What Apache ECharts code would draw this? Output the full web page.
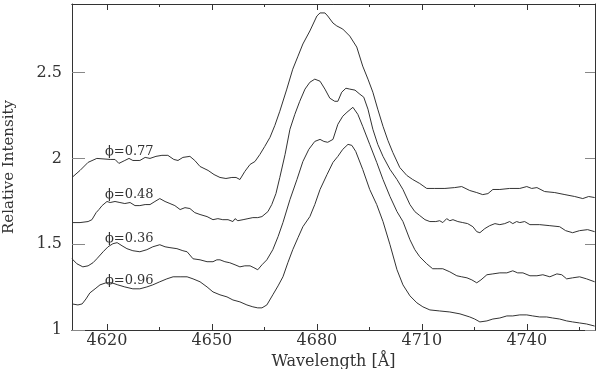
<!DOCTYPE html>
<html>
<head>
<meta charset="utf-8">
<script src="https://cdn.jsdelivr.net/npm/echarts@6/dist/echarts.min.js"></script>
<style>
  html, body { margin: 0; padding: 0; background: #fff; }
  #main { width: 600px; height: 369px; }
</style>
</head>
<body>
<div id="main"></div>
<script>
// spectra, [wavelength (A), relative intensity]
var phi077 = [
  [4610,1.889],[4612.3,1.930],[4614.6,1.977],[4617.1,2.000],[4620.9,1.994],[4622.3,1.994],
  [4623.4,1.971],[4625.1,1.988],[4626.3,2.000],[4627.4,1.988],[4629.4,1.988],[4630.9,2.006],
  [4632.3,2.000],[4634,2.012],[4635.7,2.018],[4637.4,2.018],[4639.1,1.994],[4640.3,1.988],
  [4641.7,2.006],[4643.7,2.012],[4645.1,1.988],[4646.6,1.953],[4648.9,1.930],[4650.6,1.906],
  [4652.3,1.889],[4654,1.883],[4655.7,1.889],[4656.9,1.889],[4658,1.877],[4659.4,1.924],
  [4660.9,1.965],[4662.3,1.982],[4663.7,2.023],[4665.1,2.070],[4666.6,2.123],[4668,2.193],
  [4669.4,2.275],[4671.4,2.404],[4673.1,2.520],[4674.6,2.596],[4676,2.667],[4678,2.743],
  [4680,2.830],[4680.9,2.848],[4682.3,2.848],[4683.1,2.830],[4684.6,2.789],[4685.7,2.772],
  [4687.4,2.754],[4689.4,2.713],[4691.4,2.649],[4693.1,2.538],[4694.6,2.462],[4696,2.386],
  [4697.4,2.287],[4698.9,2.187],[4700.3,2.105],[4701.7,2.035],[4703.7,1.947],[4705.7,1.901],
  [4707.4,1.877],[4709.4,1.854],[4711.4,1.825],[4713.7,1.825],[4716.6,1.825],[4719.4,1.830],
  [4721.4,1.836],[4723.7,1.813],[4725.7,1.801],[4727.4,1.789],[4728.9,1.795],[4730.3,1.819],
  [4732.3,1.819],[4735.1,1.825],[4738,1.825],[4740,1.836],[4741.4,1.825],[4742.9,1.830],
  [4745.1,1.807],[4748,1.801],[4750.9,1.789],[4753.7,1.778],[4756,1.766],[4757.7,1.778],
  [4759.4,1.772]
];
var phi048 = [
  [4610,1.626],[4612.3,1.626],[4614.6,1.632],[4615.7,1.643],[4616.9,1.684],[4617.7,1.702],
  [4618.6,1.725],[4619.1,1.719],[4620,1.749],[4620.9,1.743],[4622.3,1.749],[4623.7,1.743],
  [4625.1,1.737],[4626.6,1.743],[4628,1.725],[4629.4,1.725],[4630.9,1.731],[4632.3,1.731],
  [4633.7,1.749],[4635.1,1.766],[4636.6,1.749],[4638,1.737],[4639.4,1.725],[4640.9,1.702],
  [4642.3,1.713],[4643.7,1.708],[4645.1,1.684],[4646.6,1.673],[4648.6,1.661],[4650.3,1.643],
  [4651.7,1.649],[4653.1,1.643],[4654.6,1.643],[4656,1.632],[4656.6,1.649],[4657.4,1.637],
  [4658.9,1.643],[4660.3,1.649],[4661.7,1.655],[4663.1,1.655],[4664.3,1.661],[4666,1.690],
  [4667.1,1.731],[4668.3,1.795],[4669.4,1.889],[4670.9,2.023],[4672.3,2.170],[4673.7,2.257],
  [4675.1,2.333],[4676.6,2.404],[4678,2.444],[4679.4,2.462],[4680.9,2.450],[4682.3,2.404],
  [4683.7,2.351],[4685.1,2.333],[4686,2.333],[4687.1,2.386],[4688.3,2.409],[4689.4,2.404],
  [4690.9,2.398],[4692.3,2.374],[4693.4,2.357],[4694.6,2.287],[4696,2.170],[4697.4,2.082],
  [4698.9,2.012],[4700.9,1.936],[4702.9,1.877],[4704.6,1.819],[4706.6,1.731],[4708,1.690],
  [4709.4,1.667],[4710.9,1.643],[4712.3,1.632],[4714,1.632],[4715.1,1.637],[4716,1.626],
  [4717.1,1.649],[4718,1.637],[4718.9,1.643],[4720.3,1.632],[4721.7,1.626],[4723.1,1.620],
  [4724.6,1.602],[4725.7,1.573],[4726.6,1.567],[4728,1.591],[4729.4,1.608],[4730.9,1.620],
  [4732.3,1.614],[4733.7,1.620],[4735.1,1.632],[4736,1.620],[4737.1,1.632],[4738,1.626],
  [4739.4,1.632],[4740.9,1.614],[4743.7,1.614],[4746.6,1.608],[4749.4,1.602],[4751.1,1.579],
  [4753.1,1.567],[4755.1,1.579],[4757.4,1.585],[4759.4,1.573]
];
var phi036 = [
  [4610,1.415],[4611.4,1.386],[4613.1,1.368],[4614.6,1.374],[4616,1.392],[4617.1,1.415],
  [4618.9,1.456],[4620.3,1.485],[4621.7,1.503],[4622.9,1.509],[4624.3,1.491],[4625.7,1.474],
  [4627.4,1.462],[4629.4,1.456],[4631.4,1.468],[4633.1,1.485],[4635.1,1.497],[4636.6,1.485],
  [4638,1.480],[4640,1.474],[4641.7,1.462],[4642.9,1.456],[4644.6,1.415],[4646.6,1.409],
  [4648.6,1.398],[4650.3,1.398],[4651.4,1.409],[4652.3,1.409],[4653.7,1.398],[4655.1,1.392],
  [4656.6,1.380],[4658,1.368],[4659.4,1.374],[4660.9,1.374],[4662,1.363],[4663.1,1.351],
  [4664.3,1.380],[4665.7,1.409],[4667.4,1.468],[4668.9,1.544],[4670.3,1.626],[4672.3,1.760],
  [4674.3,1.877],[4676,1.982],[4677.7,2.053],[4679.4,2.099],[4680.9,2.111],[4682,2.099],
  [4683.1,2.094],[4684.6,2.111],[4686,2.199],[4687.4,2.246],[4688.6,2.269],[4690.3,2.298],
  [4691.7,2.257],[4693.1,2.187],[4695.1,2.082],[4697.1,1.977],[4698.9,1.877],[4700.9,1.778],
  [4702.9,1.690],[4704.6,1.632],[4706.6,1.526],[4708,1.468],[4709.4,1.427],[4711.4,1.386],
  [4713.1,1.357],[4714.6,1.357],[4716,1.357],[4718,1.339],[4720,1.316],[4721.4,1.310],
  [4722.9,1.304],[4724.3,1.292],[4725.7,1.275],[4726.9,1.292],[4728.6,1.322],[4730.3,1.327],
  [4732.3,1.333],[4734.3,1.333],[4736,1.345],[4737.4,1.333],[4738.9,1.333],[4740.9,1.316],
  [4742.9,1.316],[4744.6,1.322],[4746.6,1.310],[4748.6,1.327],[4750,1.322],[4751.4,1.298],
  [4753.1,1.304],[4755.1,1.310],[4757.1,1.298],[4759.4,1.281]
];
var phi096 = [
  [4610,1.152],[4611.7,1.146],[4612.9,1.152],[4614,1.181],[4615.1,1.216],[4616.6,1.240],
  [4618,1.263],[4619.7,1.275],[4621.4,1.275],[4623.1,1.263],[4625.1,1.251],[4627.4,1.240],
  [4629.4,1.240],[4631.4,1.251],[4633.1,1.263],[4635.1,1.281],[4637.1,1.298],[4638.9,1.310],
  [4640.9,1.310],[4642.9,1.310],[4644.6,1.298],[4646.6,1.281],[4648.6,1.251],[4650.3,1.222],
  [4652.3,1.205],[4654.3,1.193],[4656,1.175],[4658,1.164],[4660,1.146],[4661.7,1.135],
  [4663.1,1.129],[4664.3,1.129],[4665.7,1.146],[4667.4,1.205],[4668.9,1.257],[4670.3,1.310],
  [4671.7,1.392],[4673.1,1.468],[4674.6,1.538],[4676,1.602],[4678,1.661],[4679.4,1.731],
  [4680.9,1.819],[4682.9,1.906],[4684.6,1.977],[4686,2.012],[4687.4,2.053],[4688.9,2.082],
  [4690,2.076],[4691.1,2.041],[4693.1,1.936],[4695.1,1.819],[4697.1,1.731],[4698.9,1.632],
  [4700.9,1.497],[4702.9,1.351],[4704.6,1.263],[4706.6,1.199],[4708.6,1.158],[4710.3,1.135],
  [4712.3,1.117],[4715.1,1.111],[4718,1.105],[4720.9,1.094],[4723.7,1.076],[4725.1,1.064],
  [4726.6,1.047],[4728.6,1.053],[4730.3,1.064],[4732.3,1.070],[4734.3,1.082],[4736,1.082],
  [4738,1.088],[4740,1.088],[4741.7,1.082],[4743.7,1.076],[4745.7,1.076],[4747.4,1.070],
  [4749.4,1.064],[4751.4,1.053],[4753.1,1.047],[4755.1,1.041],[4757.1,1.035],[4759.4,1.023]
];

var phaseNames = ['ϕ=0.77', 'ϕ=0.48', 'ϕ=0.36', 'ϕ=0.96'];
var phaseLabelPos = [[4619.4, 2.04], [4619.4, 1.79], [4619.4, 1.53], [4619.4, 1.29]];
var xMajor = [4620, 4650, 4680, 4710, 4740];
var xMinor = [4635, 4665, 4695, 4725, 4755];
var yMajor = [1, 1.5, 2, 2.5];

var FONT = '"DejaVu Serif", "Liberation Serif", serif';
var INK = '#333';

var myChart = echarts.init(document.getElementById('main'), null, {renderer: 'canvas'});

function xAxisDef(pos, vals, len, showLabel) {
  return {
    type: 'value', position: pos, min: 4610, max: 4759.5,
    axisLine: {show: true, onZero: false, lineStyle: {color: INK, width: 1}},
    axisTick: {show: true, inside: true, length: len, customValues: vals, lineStyle: {color: INK}},
    axisLabel: {show: showLabel, customValues: vals, margin: 3, color: INK, fontFamily: FONT, fontSize: 16,
      formatter: function (v) { return String(v); }},
    splitLine: {show: false},
    name: showLabel ? 'Wavelength [Å]' : '',
    nameLocation: 'middle', nameGap: 20,
    nameTextStyle: {color: INK, fontFamily: FONT, fontSize: 16}
  };
}
function yAxisDef(pos, len, showLabel) {
  return {
    type: 'value', position: pos, min: 1, max: 2.9,
    axisLine: {show: true, onZero: false, lineStyle: {color: INK, width: 1}},
    axisTick: {show: true, inside: true, length: len, customValues: yMajor, lineStyle: {color: '#888'}},
    axisLabel: {show: showLabel, customValues: yMajor, margin: 10, color: INK, fontFamily: FONT, fontSize: 16,
      formatter: function (v) { return String(v); }},
    splitLine: {show: false},
    name: showLabel ? 'Relative Intensity' : '',
    nameLocation: 'middle', nameGap: 55, nameRotate: 90,
    nameTextStyle: {color: INK, fontFamily: FONT, fontSize: 15}
  };
}

var spectra = [phi077, phi048, phi036, phi096];
var series = spectra.map(function (d, i) {
  return {
    type: 'line', data: d, xAxisIndex: 0, yAxisIndex: 0,
    showSymbol: false, symbol: 'none', silent: true,
    lineStyle: {color: INK, width: 1},
    markPoint: {
      symbol: 'circle', symbolSize: 0, silent: true,
      label: {show: true, position: 'right', distance: 0, formatter: phaseNames[i],
        color: INK, fontFamily: FONT, fontSize: 13},
      data: [{coord: phaseLabelPos[i]}]
    }
  };
});

myChart.setOption({
  animation: false,
  backgroundColor: '#fff',
  grid: {left: 72, right: 5, top: 4, bottom: 39, containLabel: false, outerBoundsMode: 'none'},
  xAxis: [
    xAxisDef('bottom', xMajor, 6, true),
    xAxisDef('bottom', xMinor, 3, false),
    xAxisDef('top', xMajor, 6, false),
    xAxisDef('top', xMinor, 3, false)
  ],
  yAxis: [
    yAxisDef('left', 13, true),
    yAxisDef('right', 10, false)
  ],
  series: series
});
</script>
</body>
</html>
